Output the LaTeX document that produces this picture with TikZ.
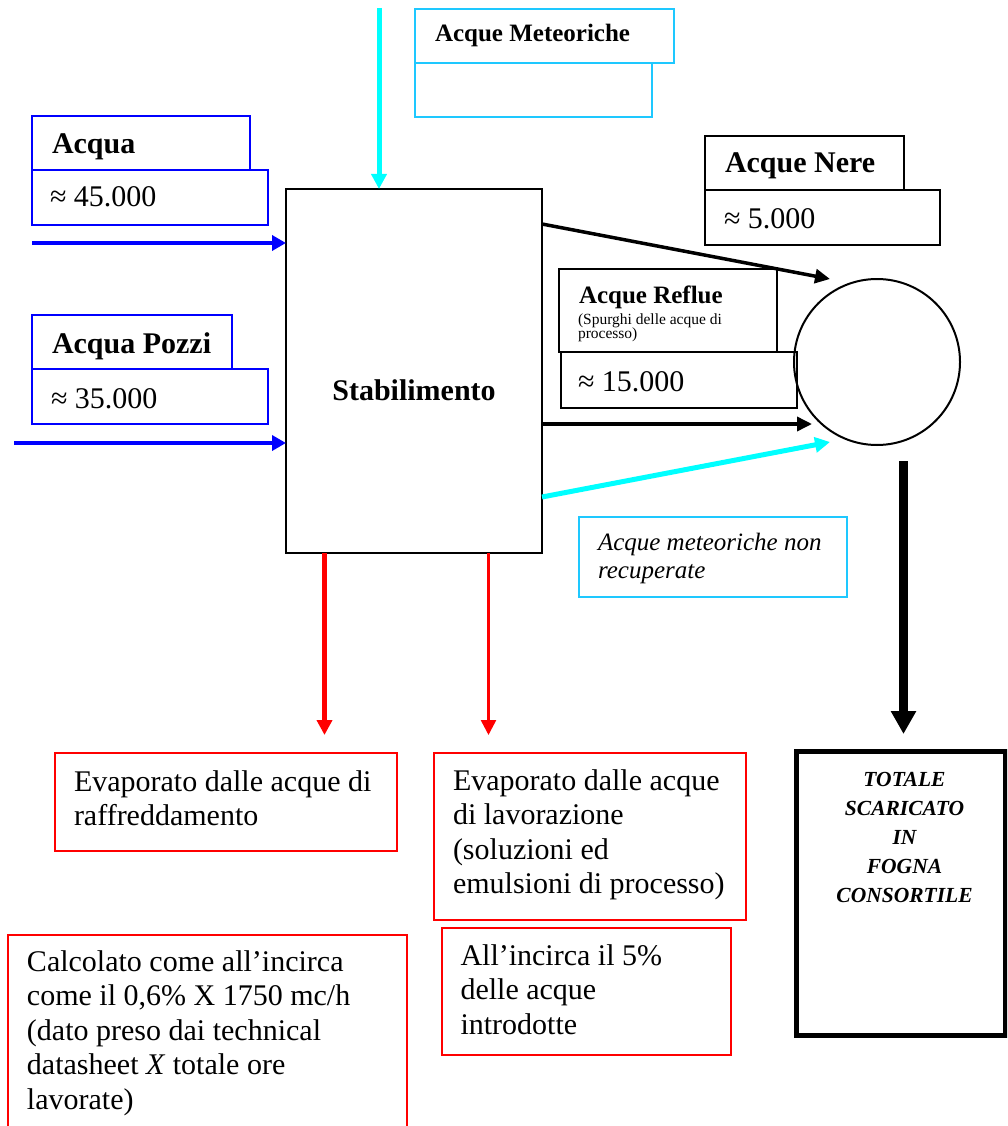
\documentclass[tikz,border=0pt]{standalone}
\usepackage{fontspec}
\setmainfont{Liberation Serif}
\usetikzlibrary{arrows.meta,calc}
\definecolor{cyanline}{RGB}{0,255,255}
\definecolor{cyanbox}{RGB}{30,200,255}
\definecolor{bluel}{RGB}{0,0,255}
\definecolor{redl}{RGB}{255,0,0}
\newcommand{\spurfont}{\fontsize{15.5}{14}\selectfont\lineskiplimit -20pt\relax}
\tikzset{
  bx/.style={draw, inner sep=0pt, outer sep=0pt, anchor=north west, line width=2pt},
  bluebox/.style={bx, draw=bluel},
  cyanbx/.style={bx, draw=cyanbox},
  blackbox/.style={bx, draw=black},
  redbox/.style={bx, draw=redl},
  one/.style={inner sep=0pt, outer sep=0pt, anchor=base west},
  big/.style={font=\fontsize{30}{34.5}\selectfont},
  bigb/.style={font=\fontsize{30}{34.5}\selectfont\bfseries},
  midb/.style={font=\fontsize{25}{28.75}\selectfont\bfseries},
  multi/.style={inner sep=0pt, outer sep=0pt, anchor=north west, align=left},
  bluearrow/.style={draw=bluel, line width=4pt, -{Triangle[length=14pt,width=15pt]}, bluel},
  cyanarrow/.style={draw=cyanline, line width=5pt, -{Triangle[length=15pt,width=15pt]}, cyanline},
  blackarrow/.style={draw=black, line width=3.5pt, -{Triangle[length=15pt,width=14pt]}},
  thickarrow/.style={draw=black, line width=8.5pt, -{Triangle[length=23pt,width=24pt]}},
  redarrow/.style={draw=redl, -{Triangle[length=15pt,width=15pt]}, redl},
}
\begin{document}
\begin{tikzpicture}[x=1pt,y=-1pt]
\useasboundingbox (0,0) rectangle (1007,1126);
\clip (0,0) rectangle (1007,1126);
\fill[white] (0,0) rectangle (1007,1126);

% boxes
\node[bluebox, minimum width=218pt, minimum height=54pt] (acquaT) at (32,116) {};
\node[bluebox, minimum width=236pt, minimum height=55pt] (acquaV) at (32,170) {};
\node[bluebox, minimum width=200pt, minimum height=54pt] (pozziT) at (32,315) {};
\node[bluebox, minimum width=236pt, minimum height=55pt] (pozziV) at (32,369) {};
\node[cyanbx, minimum width=259pt, minimum height=54pt] (metT) at (415,9) {};
\node[cyanbx, minimum width=237pt, minimum height=54pt] (metV) at (415,63) {};
\node[blackbox, minimum width=199pt, minimum height=54pt] (nereT) at (705,136) {};
\node[blackbox, minimum width=235pt, minimum height=55pt] (nereV) at (705,190) {};
\node[blackbox, minimum width=218pt, minimum height=83pt] (reflT) at (559,269) {};
\node[blackbox, minimum width=236pt, minimum height=56pt] (reflV) at (561,352) {};
\node[blackbox, minimum width=256pt, minimum height=364pt] (stab) at (286,189) {};
\node[draw, circle, line width=2pt, inner sep=0pt, minimum size=166pt] (circ) at (877,362) {};
\node[cyanbx, minimum width=268pt, minimum height=80pt] (note) at (579,517) {};
\node[redbox, minimum width=342pt, minimum height=98pt] (evap1) at (55,753) {};
\node[redbox, minimum width=312pt, minimum height=167pt] (evap2) at (434,753) {};
\node[redbox, minimum width=399pt, minimum height=210pt] (calc) at (8,935) {};
\node[redbox, minimum width=289pt, minimum height=127pt] (perc) at (442,928) {};
\node[blackbox, line width=5pt, minimum width=209pt, minimum height=284pt] (tot) at (796,751) {};

% texts
\node[one, bigb] (acquaL) at (52,154) {Acqua};
\node[one, big] (acquaN) at (50,207) {≈ 45.000};
\node[one, bigb] (pozziL) at (52,353) {Acqua Pozzi};
\node[one, big] (pozziN) at (51,408) {≈ 35.000};
\node[one, midb] (metL) at (435,42) {Acque Meteoriche};
\node[one, bigb] (nereL) at (725,173) {Acque Nere};
\node[one, big] (nereN) at (724,228) {≈ 5.000};
\node[one, midb] (reflL) at (579,303) {Acque Reflue};
\node[multi, font=\spurfont] (reflS) at (578,314) {\rule{0pt}{10pt}(Spurghi delle acque di\\processo)};
\node[one, big] (reflN) at (578,391) {≈ 15.000};
\node[inner sep=0pt, anchor=base, bigb] (stabL) at (414,400) {Stabilimento};
\node[multi, font=\fontsize{25}{28.75}\selectfont\itshape] (noteL) at (598,529.9) {\strut Acque meteoriche non\\recuperate};
\node[multi, big] (evap1L) at (74,766.85) {\strut Evaporato dalle acque di\\raffreddamento};
\node[multi, big] (evap2L) at (453,765.85) {\strut Evaporato dalle acque\\di lavorazione\\(soluzioni ed\\emulsioni di processo)};
\node[multi, big] (calcL) at (27,946.85) {\strut Calcolato come all’incirca\\come il 0,6\% X 1750 mc/h\\(dato preso dai technical\\datasheet \textit{X} totale ore\\lavorate)};
\node[multi, big] (percL) at (460.5,940.85) {\strut All’incirca il 5\%\\delle acque\\introdotte};
\node[inner sep=0pt, outer sep=0pt, anchor=north, align=center, font=\fontsize{21.5}{29}\selectfont\bfseries\itshape] (totL) at (904.5,765.7) {\strut TOTALE\\SCARICATO\\IN\\FOGNA\\CONSORTILE};

% connectors
\coordinate (inA) at (32,243);
\coordinate (inP) at (14,443);
\coordinate (metIn) at (379,8);
\coordinate (t1) at (830,279);
\coordinate (t2) at (812,424);
\coordinate (t3) at (830,442);
\coordinate (thS) at (903.5,461);
\coordinate (thE) at (903.5,734);
\coordinate (r1) at (324.5,735);
\coordinate (r2) at (488.5,735);

\draw[bluearrow] (inA) -- (inA -| stab.west);
\draw[bluearrow] (inP) -- (inP -| stab.west);
\draw[cyanarrow] (metIn) -- (metIn |- stab.north);
\draw[blackarrow] ($(stab.north east)+(0,35)$) -- (t1);
\draw[blackarrow] (t2 -| stab.east) -- (t2);
\draw[cyanarrow] ($(stab.north east)+(0,308)$) -- (t3);
\draw[thickarrow] (thS) -- (thE);
\draw[redarrow, line width=4.5pt] (r1 |- stab.south) -- (r1);
\draw[redarrow, line width=2.5pt] (r2 |- stab.south) -- (r2);
\end{tikzpicture}
\end{document}
